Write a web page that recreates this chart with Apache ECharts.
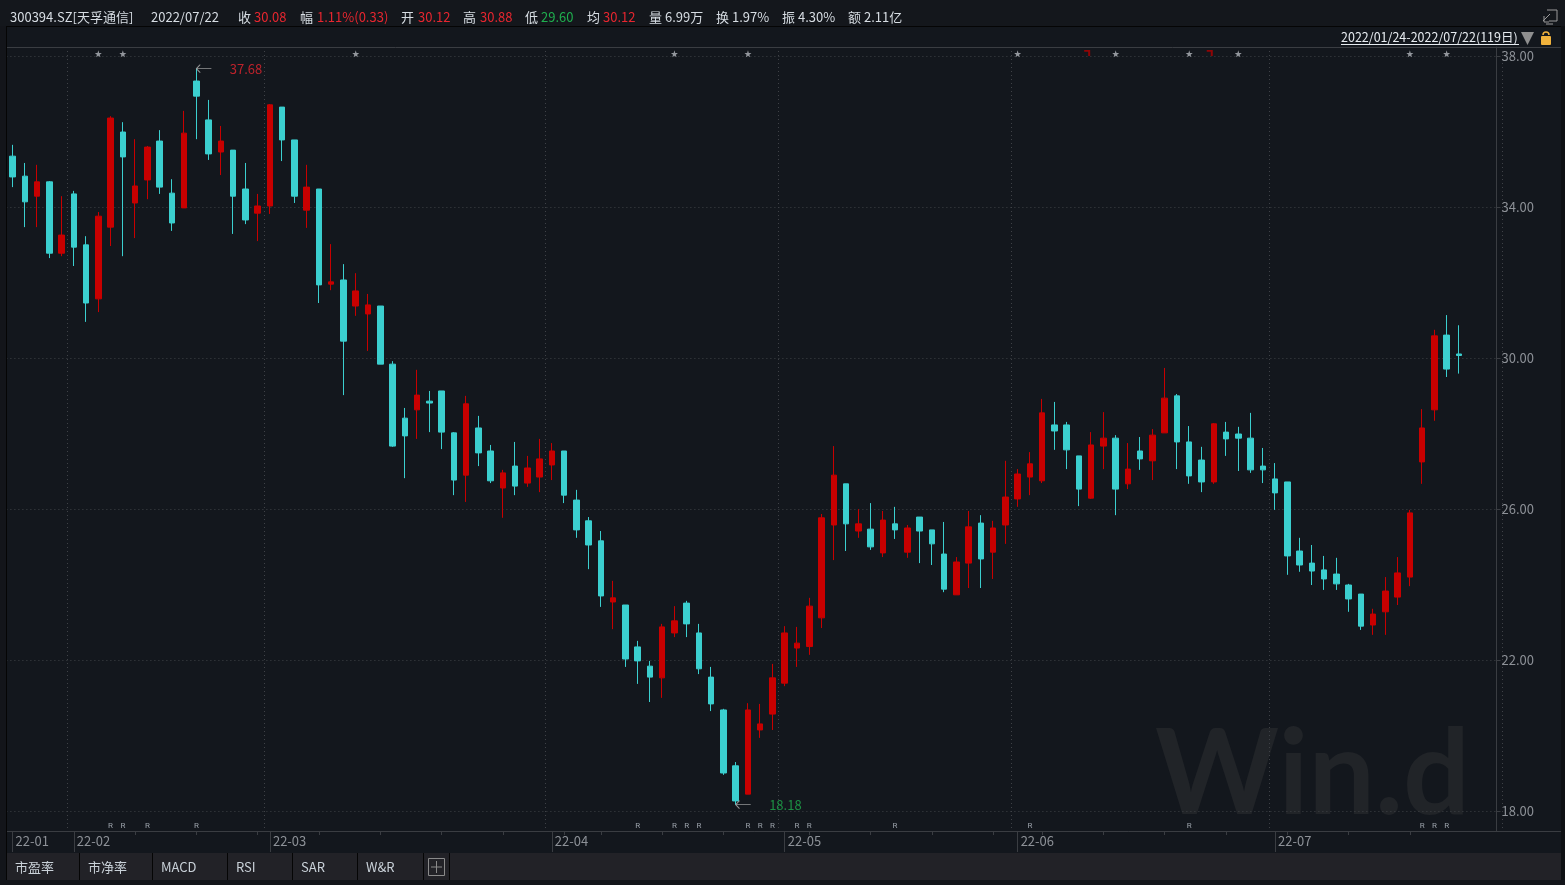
<!DOCTYPE html>
<html><head><meta charset="utf-8">
<style>html,body{margin:0;padding:0;background:#13171d;overflow:hidden}#c{width:1565px;height:885px}</style>
<script src="https://cdn.jsdelivr.net/npm/echarts@6/dist/echarts.min.js"></script>
</head><body><div id="c"></div>
<script>
const opens=[35.36,34.83,34.30,34.68,32.79,34.36,33.01,31.58,33.48,36.00,34.12,34.73,35.76,34.38,33.99,37.35,36.32,35.47,35.52,34.49,33.85,34.04,36.66,35.79,33.93,34.49,31.97,32.08,31.39,31.18,31.39,29.85,28.42,28.64,28.87,29.14,28.03,26.91,28.16,27.55,26.57,27.15,26.70,26.86,27.18,27.55,26.25,25.70,25.17,23.55,23.47,22.36,21.85,21.54,22.73,23.52,22.73,21.56,20.69,19.21,18.46,20.16,20.58,21.40,22.33,22.37,23.13,25.59,26.68,25.43,25.48,24.85,25.62,24.87,25.80,25.46,24.82,23.74,24.58,25.64,24.87,25.59,26.28,26.86,26.76,28.24,28.24,27.42,26.30,27.68,27.89,26.68,27.55,27.29,28.03,29.01,27.79,27.31,26.73,28.05,28.00,27.89,27.15,26.81,26.73,24.90,24.58,24.40,24.29,24.00,23.76,22.94,23.29,23.68,24.21,27.26,28.64,30.62,30.12];
const closes=[34.81,34.15,34.68,32.79,33.27,32.95,31.47,33.77,36.37,35.34,34.57,35.60,34.54,33.59,35.97,36.95,35.42,35.76,34.30,33.67,34.04,36.72,35.79,34.30,34.54,31.95,32.03,30.46,31.79,31.42,29.85,27.68,27.95,29.03,28.82,28.05,26.78,28.80,27.50,26.76,26.97,26.62,27.10,27.34,27.55,26.38,25.46,25.06,23.71,23.66,22.04,21.99,21.56,22.89,23.05,22.97,21.78,20.85,19.02,18.28,20.69,20.32,21.54,22.73,22.46,23.44,25.78,26.91,25.62,25.62,25.01,25.72,25.46,25.51,25.43,25.09,23.89,24.61,25.54,24.69,25.51,26.33,26.94,27.21,28.56,28.08,27.58,26.54,27.71,27.89,26.54,27.07,27.34,27.97,28.95,27.79,26.89,26.73,28.27,27.87,27.89,27.05,27.05,26.44,24.77,24.53,24.37,24.16,24.03,23.63,22.91,23.23,23.84,24.32,25.91,28.16,30.60,29.72,30.08];
const lows=[34.54,33.48,33.48,32.66,32.71,32.45,30.97,31.23,32.98,32.71,33.19,34.22,34.36,33.38,33.99,35.81,35.26,34.86,33.30,33.56,33.11,33.83,35.23,34.12,33.46,31.47,31.81,29.03,31.13,30.20,29.85,27.66,26.83,27.87,28.05,27.60,26.38,26.20,27.15,26.70,25.78,26.38,26.60,26.46,26.78,26.17,25.25,24.42,23.42,22.83,21.83,21.38,20.90,21.01,22.62,22.62,21.64,20.66,18.97,18.18,18.46,19.95,20.16,21.32,21.83,22.15,22.86,24.66,24.90,25.25,24.93,24.74,25.22,24.72,24.58,24.53,23.81,23.74,23.92,23.92,24.16,25.09,26.07,26.38,26.70,27.58,27.07,26.09,26.28,27.07,25.85,26.54,27.05,26.78,28.03,27.07,26.68,26.46,26.68,27.42,27.02,26.97,26.70,25.99,24.27,24.35,24.00,23.87,23.87,23.29,22.81,22.68,22.68,23.47,23.97,26.68,28.35,29.51,29.60];
const highs=[35.66,35.18,35.13,34.70,34.30,34.44,33.24,33.88,36.42,36.26,35.81,35.63,36.05,34.75,36.56,37.68,36.85,36.16,35.52,35.18,34.36,36.74,36.66,35.79,35.13,34.49,33.03,32.50,32.26,31.71,31.39,29.93,28.69,29.70,29.14,29.14,28.05,29.01,28.48,27.71,27.05,27.79,27.42,27.87,27.76,27.55,26.52,25.80,25.43,24.11,23.47,22.52,21.99,22.97,23.44,23.58,22.97,21.83,20.72,19.31,20.87,20.85,21.91,22.91,22.89,23.66,25.88,27.68,26.68,26.01,26.17,25.96,26.07,25.59,25.80,25.46,25.67,24.74,25.96,25.85,25.70,27.29,27.07,27.52,28.93,28.85,28.32,27.42,28.05,28.58,27.97,27.76,27.92,28.13,29.75,29.06,28.21,27.66,28.29,28.32,28.19,28.56,27.63,27.23,26.73,25.25,25.06,24.77,24.72,24.03,23.76,23.37,24.21,24.74,25.99,28.66,30.76,31.15,30.88];
const monthIndex=[0,5,21,44,63,82,103];
const monthLabels=['22-01','22-02','22-03','22-04','22-05','22-06','22-07'];
const minorTickIndex=[10,15,20,25,30,35,40,45,48,53,58,65,70,75,80,84,89,94,99,104,109,114];
const priceTicks=[18,22,26,30,34,38];
const starIndex=[7,9,28,54,60,82,90,96,100,114,117];
const flagIndex=[88,98];
const rIndex=[8,9,11,15,51,54,55,56,60,61,62,64,65,72,83,96,115,116,117];
const highMark={index:15,value:37.68,text:'37.68'};
const lowMark={index:59,value:18.18,text:'18.18'};
const headerSegments=[
 ['300394.SZ[天孚通信]',10,'#d7dde3'],['2022/07/22',151,'#d7dde3'],
 ['收',238,'#d7dde3'],['30.08',254,'#e8262f'],['幅',300,'#d7dde3'],['1.11%(0.33)',317,'#e8262f'],
 ['开',401,'#d7dde3'],['30.12',418,'#e8262f'],['高',463,'#d7dde3'],['30.88',480,'#e8262f'],
 ['低',525,'#d7dde3'],['29.60',541,'#1fae4e'],['均',587,'#d7dde3'],['30.12',603,'#e8262f'],
 ['量',649,'#d7dde3'],['6.99万',665,'#d7dde3'],['换',716,'#d7dde3'],['1.97%',732,'#d7dde3'],
 ['振',782,'#d7dde3'],['4.30%',798,'#d7dde3'],['额',848,'#d7dde3'],['2.11亿',864,'#d7dde3']];
const tabs=[['市盈率',15],['市净率',88],['MACD',161],['RSI',236],['SAR',301],['W&R',366]];
const tabDividers=[6,79,152,227,292,357,423,449];
const rangeText='2022/01/24-2022/07/22(119日)';
const watermark='Win.d';

const FONT='"Noto Sans CJK SC","Noto Sans",sans-serif';
const LINE='#3a3d42', DOT='#3f4247', RED='#c80000', CYAN='#3bcfcf', LAB='#8d9197';
const categories=Array.from({length:122},()=>'');
monthIndex.forEach((m,i)=>{categories[m]=monthLabels[i];});
const candleData=opens.map((o,i)=>[o,closes[i],lows[i],highs[i]]);
const yTop=47,yBottom=831,pxPerUnit=37.75;
const yMax=38+(56.5-yTop)/pxPerUnit, yMin=18-(yBottom-811.5)/pxPerUnit;
const starY=38.07, flagY=38.09, rY=17.615;
const STAR='path://M5 0L6.2 3.6L10 3.6L7 5.9L8.1 9.6L5 7.4L1.9 9.6L3 5.9L0 3.6L3.8 3.6Z';
const ARROW='path://M0 4L4 0M0 4L4 8M0 4L16 4';

const g=[];
const rect=(x,y,w,h,fill,z)=>g.push({type:'rect',z:z||0,silent:true,shape:{x,y,width:w,height:h},style:{fill}});
const line=(x1,y1,x2,y2,stroke,z)=>g.push({type:'line',z:z||0,silent:true,shape:{x1,y1,x2,y2},style:{stroke,lineWidth:1}});
const text=(t,x,y,fill,size,z,extra)=>g.push({type:'text',z:z||5,silent:true,x,y,style:Object.assign({text:t,fill,font:size+'px '+FONT,textVerticalAlign:'middle',textAlign:'left'},extra||{})});
rect(0,0,1565,26,'#14171c');
rect(0,26,1565,1,'#050505',1);
rect(0,26,6,860,'#13151a',1);
rect(6,26,1,828,'#050505',1);
rect(1561,26,4,860,'#0e1013',1);
line(7,47.5,1561,47.5,LINE,1);
line(1502,831.5,1561,831.5,LINE,1);
rect(6,853,1555,27,'#222227',1);
rect(0,880,1565,5,'#13151a',1);
tabDividers.forEach(x=>rect(x,853,1,27,'#050505',2));
tabs.forEach(t=>text(t[0],t[1],867,'#c9d1d8',13,5));
g.push({type:'rect',z:5,silent:true,shape:{x:428.5,y:858.5,width:16,height:17},style:{fill:'none',stroke:'#8a8a8a',lineWidth:1}});
line(431,867,442,867,'#8a8a8a',5);line(436.5,861,436.5,873,'#8a8a8a',5);
headerSegments.forEach(s=>text(s[0],s[1],17,s[2],13,5));
text(rangeText,1341,37,'#e6ebf0',12.5,5);
line(1341,44.5,1519,44.5,'#e6ebf0',5);
g.push({type:'polygon',z:5,silent:true,shape:{points:[[1521,32],[1534,32],[1527.5,45]]},style:{fill:'#8f8f8f'}});
g.push({type:'rect',z:5,silent:true,shape:{x:1541,y:36,width:10,height:9,r:1},style:{fill:'#f0b23c'}});
g.push({type:'arc',z:5,silent:true,shape:{cx:1546,cy:35,r:3,startAngle:Math.PI,endAngle:0},style:{stroke:'#f0b23c',fill:'none',lineWidth:1.5}});
g.push({type:'polyline',z:5,silent:true,shape:{points:[[1547,10],[1557,10],[1557,21],[1549,21]]},style:{stroke:'#9a9a9a',fill:'none',lineWidth:1}});
g.push({type:'polyline',z:5,silent:true,shape:{points:[[1550,14],[1543,21]]},style:{stroke:'#9a9a9a',fill:'none',lineWidth:1}});
g.push({type:'polyline',z:5,silent:true,shape:{points:[[1544,16],[1544,22],[1549,22]]},style:{stroke:'#9a9a9a',fill:'none',lineWidth:1}});
line(1546,24,1553,24,'#9a9a9a',5);
g.push({type:'text',z:0,silent:true,x:1155,y:776,style:{text:watermark,fill:'#212428',font:'bold 118px Lato,sans-serif',textVerticalAlign:'middle',textAlign:'left'}});

const chart=echarts.init(document.getElementById('c'),null,{renderer:'canvas'});
chart.setOption({
 animation:false,backgroundColor:'#13171d',
 graphic:{elements:g},
 grid:{left:6.4,top:yTop,width:1495.4,height:yBottom-yTop,containLabel:false},
 xAxis:[{
   type:'category',data:categories,position:'bottom',boundaryGap:true,
   axisLine:{show:true,lineStyle:{color:LINE}},
   axisTick:{show:true,length:21,alignWithLabel:true,customValues:monthIndex,lineStyle:{color:LINE}},
   axisLabel:{show:true,customValues:monthIndex,color:LAB,fontSize:13,fontFamily:FONT,align:'left',margin:4,padding:[0,0,0,3],verticalAlign:'top'},
   splitLine:{show:true,showMinLine:false,lineStyle:{color:DOT,type:[1,3]}}
 },{
   type:'category',data:categories,position:'bottom',boundaryGap:true,
   axisLine:{show:false},
   axisTick:{show:true,length:4,alignWithLabel:true,customValues:minorTickIndex,lineStyle:{color:LINE}},
   axisLabel:{show:false},splitLine:{show:false}
 }],
 yAxis:{
   type:'value',position:'right',offset:-5.3,min:yMin,max:yMax,scale:true,
   axisLine:{show:true,onZero:false,lineStyle:{color:LINE}},
   axisTick:{show:true,length:4,customValues:priceTicks,lineStyle:{color:LINE}},
   axisLabel:{show:true,customValues:priceTicks,color:LAB,fontSize:13,fontFamily:FONT,margin:5,formatter:v=>v.toFixed(2)},
   splitLine:{show:true,lineStyle:{color:DOT,type:[1,3]}}
 },
 series:[
  {type:'candlestick',data:candleData,barWidth:6,z:3,clip:false,
   itemStyle:{color:RED,color0:CYAN,borderColor:RED,borderColor0:CYAN,borderWidth:1}},
  {type:'scatter',data:starIndex.map(i=>[i,starY]),symbol:STAR,symbolSize:7,z:4,itemStyle:{color:'#b4b8be'}},
  {type:'scatter',data:flagIndex.map(i=>[i,flagY]),symbol:'path://M0 0L6 0L6 7L4 7L4 2L0 2Z',symbolSize:[6,6],symbolOffset:[-4,0],z:4,itemStyle:{color:'#b00000'}},
  {type:'scatter',data:rIndex.map(i=>[i,rY]),symbolSize:1,z:4,itemStyle:{color:'transparent'},
   label:{show:true,formatter:'R',position:'inside',color:'#b9c1c9',fontSize:8,fontFamily:'Roboto,sans-serif'}},
  {type:'scatter',data:[[highMark.index,highMark.value]],symbol:ARROW,symbolSize:[15,8],symbolOffset:[7.5,0],symbolKeepAspect:false,z:4,
   itemStyle:{color:'none',borderColor:'#b5b5b5',borderWidth:1},
   label:{show:true,formatter:highMark.text,position:'right',distance:15,color:'#e8262f',fontSize:13,fontFamily:FONT}},
  {type:'scatter',data:[[lowMark.index,lowMark.value]],symbol:ARROW,symbolSize:[15,8],symbolOffset:[7.5,0],z:4,
   itemStyle:{color:'none',borderColor:'#b5b5b5',borderWidth:1},
   label:{show:true,formatter:lowMark.text,position:'right',distance:15,color:'#1fae4e',fontSize:13,fontFamily:FONT}}
 ]
});
</script></body></html>
